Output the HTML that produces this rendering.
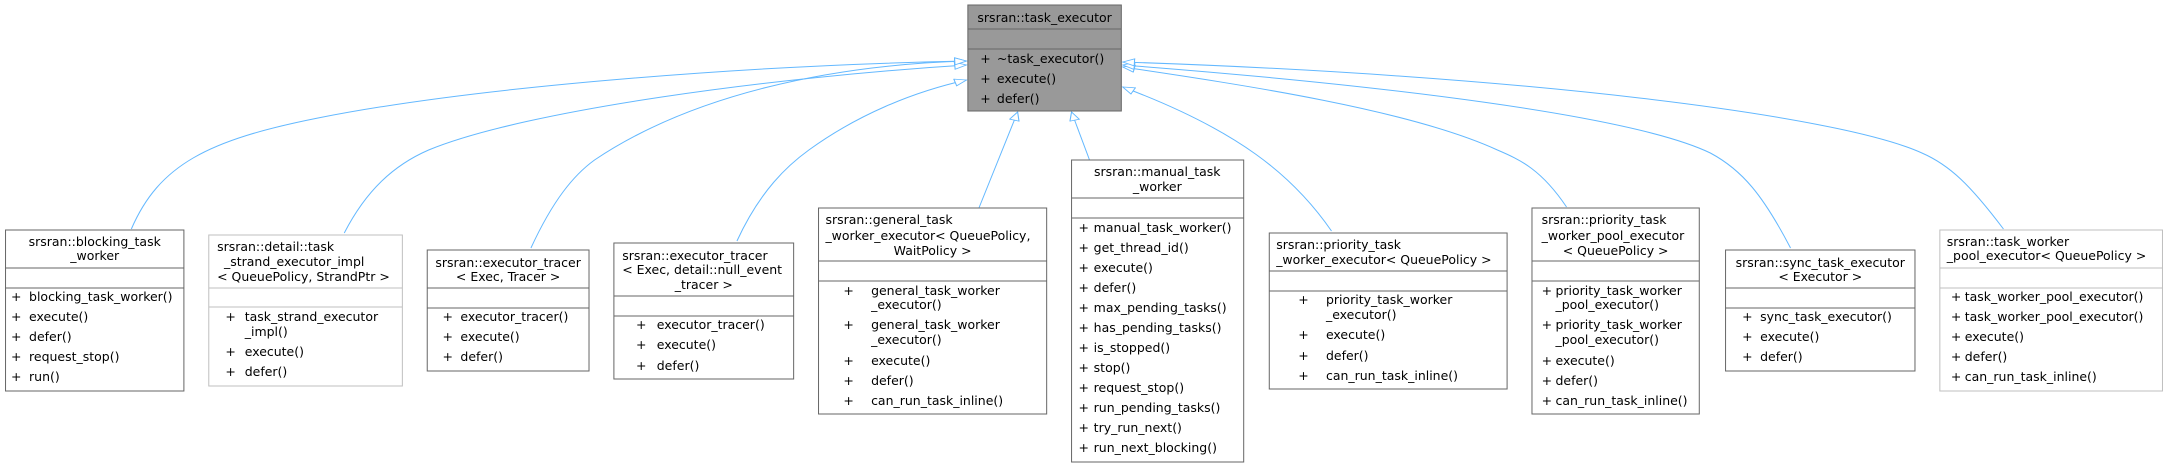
<!DOCTYPE html>
<html><head><meta charset="utf-8"><style>
html,body{margin:0;padding:0;background:#fff;}
svg{display:block;}
text{font-family:"DejaVu Sans","Liberation Sans",sans-serif;font-size:12.5px;fill:#000;}
.b{fill:#fff;stroke:#666;stroke-width:1;vector-effect:non-scaling-stroke;}
.g{fill:#fff;stroke:#bfbfbf;stroke-width:1;vector-effect:non-scaling-stroke;}
.l{stroke:#666;stroke-width:1;vector-effect:non-scaling-stroke;}
.lg{stroke:#bfbfbf;stroke-width:1;vector-effect:non-scaling-stroke;}
.e{fill:none;stroke:#63b8ff;stroke-width:1;vector-effect:non-scaling-stroke;}
.c{text-anchor:middle;}
</style></head><body>
<svg width="2168" height="464" viewBox="0 0 1568 464" preserveAspectRatio="none">
<defs>
<marker id="a" markerUnits="userSpaceOnUse" markerWidth="12" markerHeight="10" refX="9" refY="4" orient="auto">
<path d="M0.5,0.5 L9,4 L0.5,7.5 Z" fill="#fff" stroke="#63b8ff" stroke-width="0.8"/>
</marker>
</defs>

<!-- edges -->
<path class="e" marker-end="url(#a)" d="M95,229 C115,165 150,140 230,118 C350,85 550,65 699,61"/>
<path class="e" marker-end="url(#a)" d="M249,233 C265,190 285,165 310,150 C380,110 560,77 699,65"/>
<path class="e" marker-end="url(#a)" d="M384,248 C400,200 415,175 430,160 C500,95 600,65 699,61"/>
<path class="e" marker-end="url(#a)" d="M533,241 C550,190 570,165 585,150 C620,115 660,92 699,80"/>
<path class="e" marker-end="url(#a)" d="M708,208 L736,112"/>
<path class="e" marker-end="url(#a)" d="M788,160 L775,112"/>
<path class="e" marker-end="url(#a)" d="M963,231 C935,175 895,130 812,87"/>
<path class="e" marker-end="url(#a)" d="M1133,207 C1115,170 1100,160 1083,150 C1020,110 900,85 812,67"/>
<path class="e" marker-end="url(#a)" d="M1295,248 C1275,195 1260,170 1237,153 C1180,115 1000,85 812,65"/>
<path class="e" marker-end="url(#a)" d="M1449,229 C1425,185 1410,165 1390,153 C1330,115 1100,75 812,62"/>

<!-- task_executor -->
<rect x="700" y="5" width="111" height="106" fill="#999" stroke="#666" vector-effect="non-scaling-stroke"/>
<line class="l" x1="700" y1="29" x2="811" y2="29"/><line class="l" x1="700" y1="49" x2="811" y2="49"/>
<text class="c" transform="translate(755.5,22) scale(.7232,1)">srsran::task_executor</text>
<text transform="translate(709,63) scale(.7232,1)">+</text><text transform="translate(721,63) scale(.7232,1)">~task_executor()</text>
<text transform="translate(709,83) scale(.7232,1)">+</text><text transform="translate(721,83) scale(.7232,1)">execute()</text>
<text transform="translate(709,103) scale(.7232,1)">+</text><text transform="translate(721,103) scale(.7232,1)">defer()</text>

<!-- 1 blocking -->
<rect class="b" x="4" y="230" width="129" height="161"/>
<line class="l" x1="4" y1="268" x2="133" y2="268"/><line class="l" x1="4" y1="288" x2="133" y2="288"/>
<text class="c" transform="translate(68.5,246) scale(.7232,1)">srsran::blocking_task</text>
<text class="c" transform="translate(68.5,260) scale(.7232,1)">_worker</text>
<text transform="translate(8,301) scale(.7232,1)">+</text><text transform="translate(21,301) scale(.7232,1)">blocking_task_worker()</text>
<text transform="translate(8,321) scale(.7232,1)">+</text><text transform="translate(21,321) scale(.7232,1)">execute()</text>
<text transform="translate(8,341) scale(.7232,1)">+</text><text transform="translate(21,341) scale(.7232,1)">defer()</text>
<text transform="translate(8,361) scale(.7232,1)">+</text><text transform="translate(21,361) scale(.7232,1)">request_stop()</text>
<text transform="translate(8,381) scale(.7232,1)">+</text><text transform="translate(21,381) scale(.7232,1)">run()</text>

<!-- 2 detail -->
<rect class="g" x="151" y="235" width="140" height="151"/>
<line class="lg" x1="151" y1="288" x2="291" y2="288"/><line class="lg" x1="151" y1="307" x2="291" y2="307"/>
<text transform="translate(157,251) scale(.7232,1)">srsran::detail::task</text>
<text transform="translate(162,266) scale(.7232,1)">_strand_executor_impl</text>
<text transform="translate(157,281) scale(.7232,1)">&lt; QueuePolicy, StrandPtr &gt;</text>
<text transform="translate(163,321) scale(.7232,1)">+</text><text transform="translate(177,321) scale(.7232,1)">task_strand_executor</text>
<text transform="translate(177,336) scale(.7232,1)">_impl()</text>
<text transform="translate(163,356) scale(.7232,1)">+</text><text transform="translate(177,356) scale(.7232,1)">execute()</text>
<text transform="translate(163,376) scale(.7232,1)">+</text><text transform="translate(177,376) scale(.7232,1)">defer()</text>

<!-- 3 executor_tracer -->
<rect class="b" x="309" y="250" width="117" height="121"/>
<line class="l" x1="309" y1="288" x2="426" y2="288"/><line class="l" x1="309" y1="308" x2="426" y2="308"/>
<text class="c" transform="translate(367.5,267) scale(.7232,1)">srsran::executor_tracer</text>
<text class="c" transform="translate(367.5,281) scale(.7232,1)">&lt; Exec, Tracer &gt;</text>
<text transform="translate(320,321) scale(.7232,1)">+</text><text transform="translate(333,321) scale(.7232,1)">executor_tracer()</text>
<text transform="translate(320,341) scale(.7232,1)">+</text><text transform="translate(333,341) scale(.7232,1)">execute()</text>
<text transform="translate(320,361) scale(.7232,1)">+</text><text transform="translate(333,361) scale(.7232,1)">defer()</text>

<!-- 4 null tracer -->
<rect class="b" x="444" y="243" width="130" height="136"/>
<line class="l" x1="444" y1="296" x2="574" y2="296"/><line class="l" x1="444" y1="316" x2="574" y2="316"/>
<text transform="translate(450,260) scale(.7232,1)">srsran::executor_tracer</text>
<text transform="translate(450,274) scale(.7232,1)">&lt; Exec, detail::null_event</text>
<text class="c" transform="translate(509,289) scale(.7232,1)">_tracer &gt;</text>
<text transform="translate(460,329) scale(.7232,1)">+</text><text transform="translate(475,329) scale(.7232,1)">executor_tracer()</text>
<text transform="translate(460,349) scale(.7232,1)">+</text><text transform="translate(475,349) scale(.7232,1)">execute()</text>
<text transform="translate(460,370) scale(.7232,1)">+</text><text transform="translate(475,370) scale(.7232,1)">defer()</text>

<!-- 5 general -->
<rect class="b" x="592" y="208" width="165" height="206"/>
<line class="l" x1="592" y1="261" x2="757" y2="261"/><line class="l" x1="592" y1="281" x2="757" y2="281"/>
<text transform="translate(597,224) scale(.7232,1)">srsran::general_task</text>
<text transform="translate(597,240) scale(.7232,1)">_worker_executor&lt; QueuePolicy,</text>
<text class="c" transform="translate(674.5,255) scale(.7232,1)">WaitPolicy &gt;</text>
<text transform="translate(610,295) scale(.7232,1)">+</text><text transform="translate(630,295) scale(.7232,1)">general_task_worker</text>
<text transform="translate(630,309) scale(.7232,1)">_executor()</text>
<text transform="translate(610,329) scale(.7232,1)">+</text><text transform="translate(630,329) scale(.7232,1)">general_task_worker</text>
<text transform="translate(630,344) scale(.7232,1)">_executor()</text>
<text transform="translate(610,365) scale(.7232,1)">+</text><text transform="translate(630,365) scale(.7232,1)">execute()</text>
<text transform="translate(610,385) scale(.7232,1)">+</text><text transform="translate(630,385) scale(.7232,1)">defer()</text>
<text transform="translate(610,405) scale(.7232,1)">+</text><text transform="translate(630,405) scale(.7232,1)">can_run_task_inline()</text>

<!-- 6 manual -->
<rect class="b" x="775" y="160" width="124.5" height="302"/>
<line class="l" x1="775" y1="198" x2="899.5" y2="198"/><line class="l" x1="775" y1="218" x2="899.5" y2="218"/>
<text class="c" transform="translate(837,176) scale(.7232,1)">srsran::manual_task</text>
<text class="c" transform="translate(837,191) scale(.7232,1)">_worker</text>
<text transform="translate(780,232) scale(.7232,1)">+</text><text transform="translate(791,232) scale(.7232,1)">manual_task_worker()</text>
<text transform="translate(780,252) scale(.7232,1)">+</text><text transform="translate(791,252) scale(.7232,1)">get_thread_id()</text>
<text transform="translate(780,272) scale(.7232,1)">+</text><text transform="translate(791,272) scale(.7232,1)">execute()</text>
<text transform="translate(780,292) scale(.7232,1)">+</text><text transform="translate(791,292) scale(.7232,1)">defer()</text>
<text transform="translate(780,312) scale(.7232,1)">+</text><text transform="translate(791,312) scale(.7232,1)">max_pending_tasks()</text>
<text transform="translate(780,332) scale(.7232,1)">+</text><text transform="translate(791,332) scale(.7232,1)">has_pending_tasks()</text>
<text transform="translate(780,352) scale(.7232,1)">+</text><text transform="translate(791,352) scale(.7232,1)">is_stopped()</text>
<text transform="translate(780,372) scale(.7232,1)">+</text><text transform="translate(791,372) scale(.7232,1)">stop()</text>
<text transform="translate(780,392) scale(.7232,1)">+</text><text transform="translate(791,392) scale(.7232,1)">request_stop()</text>
<text transform="translate(780,412) scale(.7232,1)">+</text><text transform="translate(791,412) scale(.7232,1)">run_pending_tasks()</text>
<text transform="translate(780,432) scale(.7232,1)">+</text><text transform="translate(791,432) scale(.7232,1)">try_run_next()</text>
<text transform="translate(780,452) scale(.7232,1)">+</text><text transform="translate(791,452) scale(.7232,1)">run_next_blocking()</text>

<!-- 7 priority executor -->
<rect class="b" x="918" y="233" width="172" height="156"/>
<line class="l" x1="918" y1="271" x2="1090" y2="271"/><line class="l" x1="918" y1="291" x2="1090" y2="291"/>
<text transform="translate(923,249) scale(.7232,1)">srsran::priority_task</text>
<text transform="translate(923,264) scale(.7232,1)">_worker_executor&lt; QueuePolicy &gt;</text>
<text transform="translate(939,304) scale(.7232,1)">+</text><text transform="translate(959,304) scale(.7232,1)">priority_task_worker</text>
<text transform="translate(959,319) scale(.7232,1)">_executor()</text>
<text transform="translate(939,339) scale(.7232,1)">+</text><text transform="translate(959,339) scale(.7232,1)">execute()</text>
<text transform="translate(939,360) scale(.7232,1)">+</text><text transform="translate(959,360) scale(.7232,1)">defer()</text>
<text transform="translate(939,380) scale(.7232,1)">+</text><text transform="translate(959,380) scale(.7232,1)">can_run_task_inline()</text>

<!-- 8 priority pool -->
<rect class="b" x="1108" y="208" width="121" height="206"/>
<line class="l" x1="1108" y1="261" x2="1229" y2="261"/><line class="l" x1="1108" y1="281" x2="1229" y2="281"/>
<text transform="translate(1115,224) scale(.7232,1)">srsran::priority_task</text>
<text transform="translate(1115,240) scale(.7232,1)">_worker_pool_executor</text>
<text class="c" transform="translate(1168.5,255) scale(.7232,1)">&lt; QueuePolicy &gt;</text>
<text transform="translate(1115,295) scale(.7232,1)">+</text><text transform="translate(1125,295) scale(.7232,1)">priority_task_worker</text>
<text transform="translate(1125,309) scale(.7232,1)">_pool_executor()</text>
<text transform="translate(1115,329) scale(.7232,1)">+</text><text transform="translate(1125,329) scale(.7232,1)">priority_task_worker</text>
<text transform="translate(1125,344) scale(.7232,1)">_pool_executor()</text>
<text transform="translate(1115,365) scale(.7232,1)">+</text><text transform="translate(1125,365) scale(.7232,1)">execute()</text>
<text transform="translate(1115,385) scale(.7232,1)">+</text><text transform="translate(1125,385) scale(.7232,1)">defer()</text>
<text transform="translate(1115,405) scale(.7232,1)">+</text><text transform="translate(1125,405) scale(.7232,1)">can_run_task_inline()</text>

<!-- 9 sync -->
<rect class="b" x="1248" y="250" width="137" height="121"/>
<line class="l" x1="1248" y1="288" x2="1385" y2="288"/><line class="l" x1="1248" y1="308" x2="1385" y2="308"/>
<text class="c" transform="translate(1316.5,267) scale(.7232,1)">srsran::sync_task_executor</text>
<text class="c" transform="translate(1316.5,281) scale(.7232,1)">&lt; Executor &gt;</text>
<text transform="translate(1260,321) scale(.7232,1)">+</text><text transform="translate(1273,321) scale(.7232,1)">sync_task_executor()</text>
<text transform="translate(1260,341) scale(.7232,1)">+</text><text transform="translate(1273,341) scale(.7232,1)">execute()</text>
<text transform="translate(1260,361) scale(.7232,1)">+</text><text transform="translate(1273,361) scale(.7232,1)">defer()</text>

<!-- 10 task_worker_pool -->
<rect class="g" x="1403" y="230" width="161" height="161"/>
<line class="lg" x1="1403" y1="268" x2="1564" y2="268"/><line class="lg" x1="1403" y1="288" x2="1564" y2="288"/>
<text transform="translate(1408,246) scale(.7232,1)">srsran::task_worker</text>
<text transform="translate(1408,260) scale(.7232,1)">_pool_executor&lt; QueuePolicy &gt;</text>
<text transform="translate(1411,301) scale(.7232,1)">+</text><text transform="translate(1421,301) scale(.7232,1)">task_worker_pool_executor()</text>
<text transform="translate(1411,321) scale(.7232,1)">+</text><text transform="translate(1421,321) scale(.7232,1)">task_worker_pool_executor()</text>
<text transform="translate(1411,341) scale(.7232,1)">+</text><text transform="translate(1421,341) scale(.7232,1)">execute()</text>
<text transform="translate(1411,361) scale(.7232,1)">+</text><text transform="translate(1421,361) scale(.7232,1)">defer()</text>
<text transform="translate(1411,381) scale(.7232,1)">+</text><text transform="translate(1421,381) scale(.7232,1)">can_run_task_inline()</text>
</svg>
</body></html>
